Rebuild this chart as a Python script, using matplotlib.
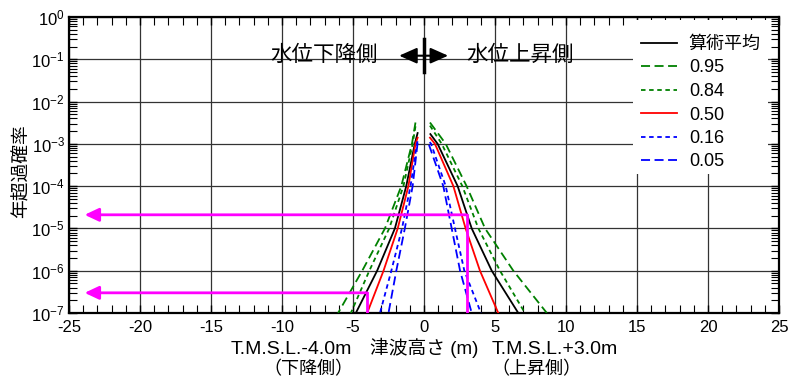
import numpy as np
import matplotlib
matplotlib.use("Agg")
import matplotlib.pyplot as plt
from matplotlib.lines import Line2D
from matplotlib.patches import Rectangle
from matplotlib.ticker import LogLocator, MultipleLocator, FuncFormatter, NullFormatter

plt.rcParams['font.family'] = ['Liberation Sans', 'Noto Sans CJK JP']
plt.rcParams['mathtext.fontset'] = 'custom'
plt.rcParams['mathtext.rm'] = 'Liberation Sans'
plt.rcParams['mathtext.it'] = 'Liberation Sans:italic'
plt.rcParams['axes.unicode_minus'] = False

# series (legend order)
labels = ["算術平均", "0.95", "0.84", "0.50", "0.16", "0.05"]
colors = ["black", "green", "green", "red", "blue", "blue"]
styles = ["-", (0, (5, 2.5)), (0, (2.5, 2)), "-", (0, (2.5, 2)), (0, (5, 2.5))]

# probability levels below the top of each curve
levels = [1e-3, 1e-4, 1e-5, 1e-6, 1e-7]
top_p_left = [1.8e-3, 3.2e-3, 2.6e-3, 1.4e-3, 1.15e-3, 1.05e-3]
top_p_right = [1.7e-3, 3.2e-3, 2.7e-3, 1.4e-3, 1.1e-3, 0.95e-3]

# height (m) on the falling side
left_top_x = [-0.45, -0.6, -0.6, -0.45, -0.45, -0.45]
left_x = [
    [-0.65, -1.25, -2.05, -3.30, -4.80],
    [-0.85, -1.60, -2.75, -4.35, -6.05],
    [-0.80, -1.45, -2.45, -3.85, -5.15],
    [-0.60, -1.10, -1.85, -2.85, -4.00],
    [-0.50, -0.95, -1.55, -2.30, -3.10],
    [-0.48, -0.80, -1.35, -1.95, -2.50],
]
# height (m) on the rising side
right_top_x = [0.45, 0.42, 0.42, 0.42, 0.40, 0.35]
right_x = [
    [0.96, 2.37, 3.36, 4.77, 6.64],
    [1.53, 3.00, 4.30, 6.29, 8.65],
    [1.25, 2.70, 3.83, 5.35, 7.11],
    [0.77, 2.07, 2.93, 3.94, 5.23],
    [0.50, 1.53, 2.18, 2.84, 4.01],
    [0.45, 1.36, 1.95, 2.54, 3.36],
]

# reading arrows (magenta)
read_x = [3.0, -4.0]
read_p = [2.1e-5, 3.0e-7]
arrow_tip_x = -23.9

fig = plt.figure(figsize=(8.01, 3.83), dpi=100)
ax = fig.add_axes([69 / 801, 70 / 383, 710 / 801, 296 / 383])
ax.set_yscale('log')
ax.set_xlim(-25, 25)
ax.set_ylim(1e-7, 1)

ax.xaxis.set_major_locator(MultipleLocator(5))
ax.xaxis.set_minor_locator(MultipleLocator(1))
ax.yaxis.set_major_locator(LogLocator(base=10, numticks=20))
ax.yaxis.set_minor_locator(LogLocator(base=10, subs=np.arange(2, 10), numticks=20))
ax.yaxis.set_major_formatter(FuncFormatter(lambda v, pos: '$10^{%d}$' % int(round(np.log10(v)))))
ax.yaxis.set_minor_formatter(NullFormatter())
ax.tick_params(which='both', direction='in', top=True, right=True, labelsize=12)
ax.tick_params(which='major', length=6, width=1)
ax.tick_params(which='minor', length=6, width=0.8)
ax.tick_params(axis='x', pad=5)
ax.tick_params(axis='y', pad=3)
for s in ax.spines.values():
    s.set_linewidth(1.6)
ax.set_axisbelow(True)
ax.grid(True, which='major', color='#333333', lw=0.9)

for i in range(len(labels)):
    lx = [left_top_x[i]] + left_x[i]
    lp = [top_p_left[i]] + levels
    rx = [right_top_x[i]] + right_x[i]
    rp = [top_p_right[i]] + levels
    if top_p_left[i] <= 1.05e-3:
        lx = [left_top_x[i]] + left_x[i][1:]
        lp = [top_p_left[i]] + levels[1:]
    if top_p_right[i] <= 1.0e-3:
        rx = [right_top_x[i]] + right_x[i][1:]
        rp = [top_p_right[i]] + levels[1:]
    ax.plot(lx, lp, color=colors[i], ls=styles[i], lw=1.3, zorder=3)
    ax.plot(rx, rp, color=colors[i], ls=styles[i], lw=1.3, zorder=3)

# magenta reading lines
for x, p in zip(read_x, read_p):
    ax.plot([x, x], [p, 1e-7], color='magenta', lw=2, zorder=4)
    ax.annotate('', xy=(arrow_tip_x, p), xytext=(x, p),
                arrowprops=dict(arrowstyle='-|>,head_length=0.85,head_width=0.4',
                                mutation_scale=10, color='magenta', lw=2,
                                shrinkA=0, shrinkB=0), zorder=4)

# direction marker
ax.text(-7.0, 10 ** -0.9, '水位下降側', fontsize=15.5, ha='center', va='center')
ax.text(6.76, 10 ** -0.9, '水位上昇側', fontsize=15.5, ha='center', va='center')
ax.annotate('', xy=(-1.75, 10 ** -0.915), xytext=(1.7, 10 ** -0.915),
            arrowprops=dict(arrowstyle='<|-|>,head_length=0.9,head_width=0.4',
                            mutation_scale=12, color='black', lw=1.5,
                            shrinkA=0, shrinkB=0))
ax.plot([0, 0], [10 ** -0.52, 10 ** -1.30], color='black', lw=2.5)

# legend area
ax.add_patch(Rectangle(((633 - 69) / 710, 1 - (174 - 17) / 296), (768 - 633) / 710,
                       (174 - 20) / 296, transform=ax.transAxes, facecolor='white',
                       edgecolor='none', zorder=1))
handles = [Line2D([], [], color=c, ls=s, lw=1.3) for c, s in zip(colors, styles)]
ax.legend(handles, labels, loc='upper left', bbox_to_anchor=((641 - 69) / 710, 1 - (36 - 17) / 296),
          frameon=False, fontsize=13, handlelength=2.0, handletextpad=0.65,
          labelspacing=0.36, borderpad=0, borderaxespad=0)

fig.text(424 / 801, (383 - 348) / 383, '津波高さ (m)', fontsize=13.5,
         ha='center', va='center')
fig.text(22 / 801, (383 - 171.5) / 383, '年超過確率', fontsize=13.5,
         rotation=90, ha='center', va='center')
fig.text(291.7 / 801, (383 - 350) / 383, 'T.M.S.L.-4.0m', fontsize=14, ha='center', va='center')
fig.text(308 / 801, (383 - 370) / 383, '（下降側）', fontsize=13, ha='center', va='center')
fig.text(555 / 801, (383 - 350) / 383, 'T.M.S.L.+3.0m', fontsize=14, ha='center', va='center')
fig.text(536.7 / 801, (383 - 370) / 383, '（上昇側）', fontsize=13, ha='center', va='center')

fig.savefig('out.png', dpi=100)
